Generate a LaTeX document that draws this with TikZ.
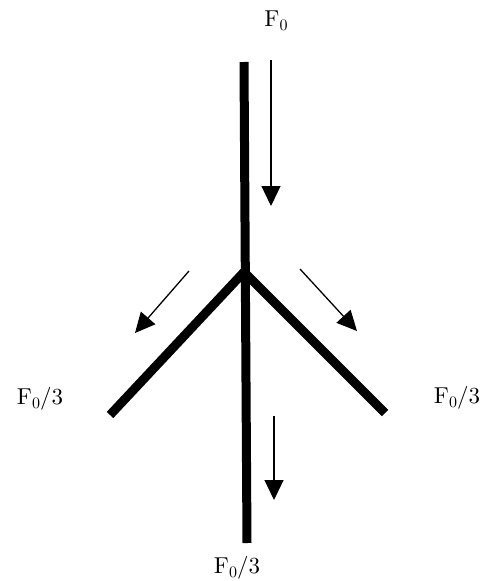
\documentclass[tikz,border=0pt]{standalone}
\usepackage{fontspec}
\setmainfont{lmroman10-regular.otf}
\usetikzlibrary{arrows.meta}
\newcommand{\Fsub}{F\raisebox{-0.18em}{\fontsize{16}{16}\selectfont 0}}
\begin{document}
\begin{tikzpicture}[x=1pt,y=-1pt,
  member/.style={line width=9pt,line cap=butt,line join=miter},
  force/.style={line width=1.3pt,-{Triangle[width=19pt,length=20pt]}},
  lbl/.style={font=\fontsize{23}{26}\selectfont,inner sep=0pt}]
\useasboundingbox (0,0) rectangle (489,581);
\coordinate (top) at (244,62);
\coordinate (j) at (244,272);
\coordinate (bot) at (247,543);
\coordinate (le) at (110,415);
\coordinate (re) at (385,413);
\draw[member] (top) -- (bot);
\draw[member] (le) -- (j) -- (re);
\coordinate (a1s) at (271,60);
\coordinate (a1e) at (271,206);
\coordinate (a2s) at (189,271);
\coordinate (a2e) at (135,333);
\coordinate (a3s) at (300,269);
\coordinate (a3e) at (357,331);
\coordinate (a4s) at (274,416);
\coordinate (a4e) at (274,500);
\draw[force] (a1s) -- (a1e);
\draw[force] (a2s) -- (a2e);
\draw[force] (a3s) -- (a3e);
\draw[force] (a4s) -- (a4e);
\node[lbl] (ltop) at (276,21) {\Fsub};
\node[lbl] (lleft) at (40,399) {\Fsub/3};
\node[lbl] (lright) at (457,398) {\Fsub/3};
\node[lbl] (lbot) at (237,568) {\Fsub/3};
\end{tikzpicture}
\end{document}
